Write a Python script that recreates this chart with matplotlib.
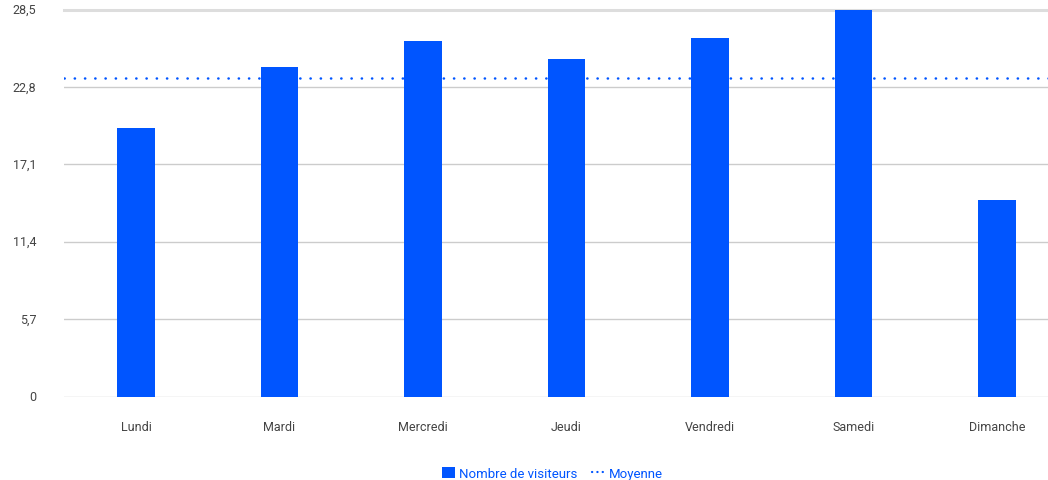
import matplotlib.pyplot as plt
from matplotlib.patches import Patch
from matplotlib.lines import Line2D

plt.rcParams["font.family"] = ["Roboto", "DejaVu Sans"]

jours = ["Lundi", "Mardi", "Mercredi", "Jeudi", "Vendredi", "Samedi", "Dimanche"]
visiteurs = [19.8, 24.25, 26.15, 24.85, 26.4, 28.5, 14.45]
y_ticks = [0, 5.7, 11.4, 17.1, 22.8, 28.5]
y_tick_labels = ["0", "5,7", "11,4", "17,1", "22,8", "28,5"]

BLEU = "#0055ff"
GRIS_TEXTE = "#444444"

moyenne = sum(visiteurs) / len(visiteurs)

fig = plt.figure(figsize=(10.48, 4.81), dpi=100)
ax = fig.add_axes([64.25 / 1048, 83.5 / 481, 1004.5 / 1048, 387 / 481])

x = range(len(jours))
ax.bar(x, visiteurs, width=0.263, color=BLEU, zorder=3)
ax.axhline(moyenne, color=BLEU, linewidth=1.8, linestyle=(0, (0.1, 4.0)),
           dash_capstyle="round", zorder=2)

ax.set_xlim(-0.5, len(jours) - 0.5)
ax.set_ylim(0, 28.5)
ax.set_yticks(y_ticks)
ax.set_yticklabels(y_tick_labels)
ax.set_xticks(list(x))
ax.set_xticklabels(jours)

for v in y_ticks[:-1]:
    ax.axhline(v, color="#cccccc", linewidth=1, zorder=1)
ax.axhline(28.5, color="#dddddd", linewidth=2.2, zorder=1, clip_on=False)

for s in ax.spines.values():
    s.set_visible(False)
ax.tick_params(axis="both", length=0, labelsize=9, labelcolor=GRIS_TEXTE)
ax.tick_params(axis="y", pad=20)
ax.tick_params(axis="x", pad=17)
for lab in ax.get_yticklabels():
    lab.set_verticalalignment("center")

handles = [
    Patch(facecolor=BLEU, edgecolor="none"),
    Line2D([0], [0], color=BLEU, linewidth=1.6, linestyle=(0, (0.1, 2.3)),
           dash_capstyle="round"),
]
fig.legend(handles, ["Nombre de visiteurs", "Moyenne"], loc="center",
           bbox_to_anchor=(0.527, 0.014), ncol=2, frameon=False,
           fontsize=9.5, labelcolor=BLEU, handlelength=1.0, handleheight=1.0,
           handletextpad=0.3, columnspacing=1.1)

fig.savefig("out.png", dpi=100)
